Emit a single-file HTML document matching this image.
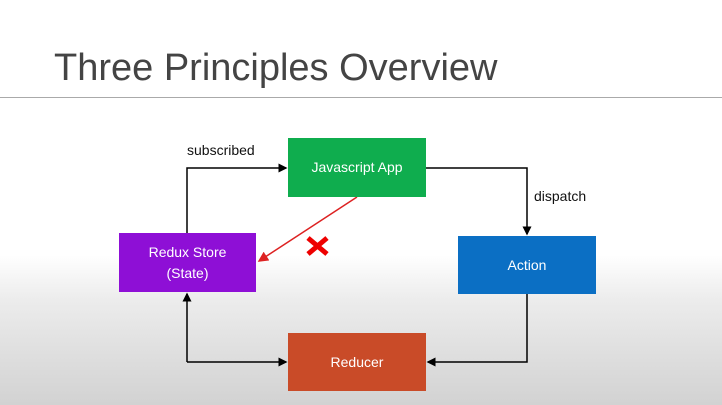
<!DOCTYPE html>
<html><head><style>
body{margin:0;width:722px;height:405px;overflow:hidden;font-family:"Liberation Sans",sans-serif;
background:linear-gradient(to bottom,#fff 0,#fff 255px,#ececec 300px,#d2d2d2 405px);position:relative}
.t{position:absolute;left:54px;top:47px;font-size:38px;color:#444;letter-spacing:0px}
.b{position:absolute;display:flex;align-items:center;justify-content:center;text-align:center;color:#fff;font-size:14px;line-height:21px}
.l{position:absolute;font-size:14px;color:#111}
</style></head><body>
<div class="t">Three Principles Overview</div>
<div style="position:absolute;left:0;top:97px;width:722px;height:1px;background:#aaa"></div>
<svg width="722" height="405" style="position:absolute;left:0;top:0">
<defs><marker id="a" markerWidth="6" markerHeight="6" refX="5" refY="3" orient="auto"><path d="M0,0L6,3L0,6z" fill="#000"/></marker>
<marker id="r" markerWidth="7" markerHeight="7" refX="6" refY="3.5" orient="auto"><path d="M0,0L7,3.5L0,7z" fill="#d22"/></marker></defs>
<g stroke="#000" stroke-width="1.5" fill="none">
<path d="M187,233V168H286" marker-end="url(#a)"/>
<path d="M426,168H527V234" marker-end="url(#a)"/>
<path d="M527,294V362H428" marker-end="url(#a)"/>
<path d="M187,362H286" marker-end="url(#a)"/>
<path d="M187,362V294" marker-end="url(#a)"/>
</g>
<path d="M357,197L259,261" stroke="#d22" stroke-width="1.5" marker-end="url(#r)"/>
<g stroke="#e00" stroke-width="5"><path d="M308,238L327,254M327,238L308,254"/></g>
</svg>
<div class="b" style="left:288px;top:138px;width:138px;height:59px;background:#0fad4e">Javascript App</div>
<div class="b" style="left:119px;top:233px;width:137px;height:59px;background:#8e0fd6">Redux Store<br>(State)</div>
<div class="b" style="left:458px;top:236px;width:138px;height:58px;background:#0b6fc4">Action</div>
<div class="b" style="left:288px;top:333px;width:138px;height:58px;background:#c94b28">Reducer</div>
<div class="l" style="left:187px;top:142px">subscribed</div>
<div class="l" style="left:534px;top:188px">dispatch</div>
</body></html>
